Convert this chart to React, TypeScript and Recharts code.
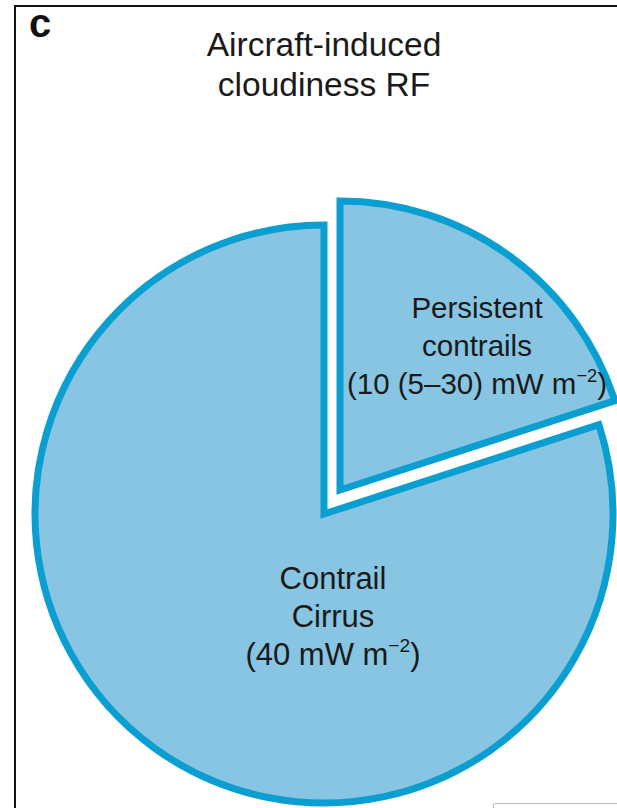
import React from 'react';
import { PieChart, Pie, Cell } from 'recharts';

// ── data (mW m-2) ──────────────────────────────────────────
const names = ['Persistent contrails', 'Contrail Cirrus'];
const values = [10, 40];
const labelLines: Record<string, string[]> = {
  'Persistent contrails': ['Persistent', 'contrails', '(10 (5–30) mW m'],
  'Contrail Cirrus': ['Contrail', 'Cirrus', '(40 mW m'],
};
const superscript = '−2';

const FILL = '#87c5e3';
const STROKE = '#0a9fd0';
const FONT = '"Liberation Sans", Arial, Helvetica, sans-serif';

const data = names.map((name, i) => ({ name, value: values[i] }));

// label placement relative to each pie's centre
const labelStyle: Record<string, { dx: number; dy: number; size: number; gap: number }> = {
  'Persistent contrails': { dx: 137, dy: -172, size: 29.5, gap: 38 },
  'Contrail Cirrus': { dx: 9, dy: 75, size: 31, gap: 38 },
};

const makeLabel = (only: string) => (props: any) => {
  const { cx, cy, name, index } = props;
  if (name !== only) return null;
  const st = labelStyle[name];
  const lines = labelLines[name];
  const x = cx + st.dx;
  const y0 = cy + st.dy;
  return (
    <text key={index} x={x} y={y0} textAnchor="middle" fill="#1a1a1a" fontFamily={FONT} fontSize={st.size}>
      {lines.map((ln, i) =>
        i < lines.length - 1 ? (
          <tspan key={i} x={x} y={y0 + i * st.gap}>{ln}</tspan>
        ) : (
          <tspan key={i} x={x} y={y0 + i * st.gap}>
            {ln}
            <tspan fontSize={st.size * 0.62} dy={-st.size * 0.42}>{superscript}</tspan>
            <tspan dy={st.size * 0.42}>)</tspan>
          </tspan>
        )
      )}
    </text>
  );
};

const slicePie = (visible: string, cx: number, cy: number) => (
  <Pie
    data={data}
    dataKey="value"
    nameKey="name"
    cx={cx}
    cy={cy}
    innerRadius={0}
    outerRadius={289}
    startAngle={90}
    endAngle={-270}
    label={makeLabel(visible)}
    labelLine={false}
    isAnimationActive={false}
  >
    {data.map((d, i) => (
      <Cell
        key={i}
        fill={d.name === visible ? FILL : 'none'}
        stroke={d.name === visible ? STROKE : 'none'}
        strokeWidth={7}
      />
    ))}
  </Pie>
);

export default function App() {
  return (
    <div style={{ position: 'fixed', left: 0, top: 0, width: 617, height: 808, background: '#fff', overflow: 'hidden' }}>
      {/* panel frame */}
      <div style={{ position: 'absolute', left: 14, top: 5, width: 620, height: 820, borderLeft: '2px solid #111', borderTop: '2px solid #111' }} />
      <div style={{ position: 'absolute', left: 493, top: 803, width: 140, height: 20, border: '1px solid #bbb', borderRadius: 2 }} />
      <div style={{ position: 'absolute', left: 29, top: 1, fontFamily: FONT, fontWeight: 700, fontSize: 40, color: '#111' }}>c</div>
      <div style={{ position: 'absolute', left: 124, top: 25, width: 400, textAlign: 'center', fontFamily: FONT, fontSize: 33.5, lineHeight: '40px', color: '#1a1a1a' }}>
        Aircraft-induced<br />cloudiness RF
      </div>
      <div style={{ position: 'absolute', left: 0, top: 0 }}>
        <PieChart width={617} height={808} margin={{ top: 0, right: 0, bottom: 0, left: 0 }}>
          {slicePie('Contrail Cirrus', 324, 514)}
          {slicePie('Persistent contrails', 340, 490)}
        </PieChart>
      </div>
    </div>
  );
}
